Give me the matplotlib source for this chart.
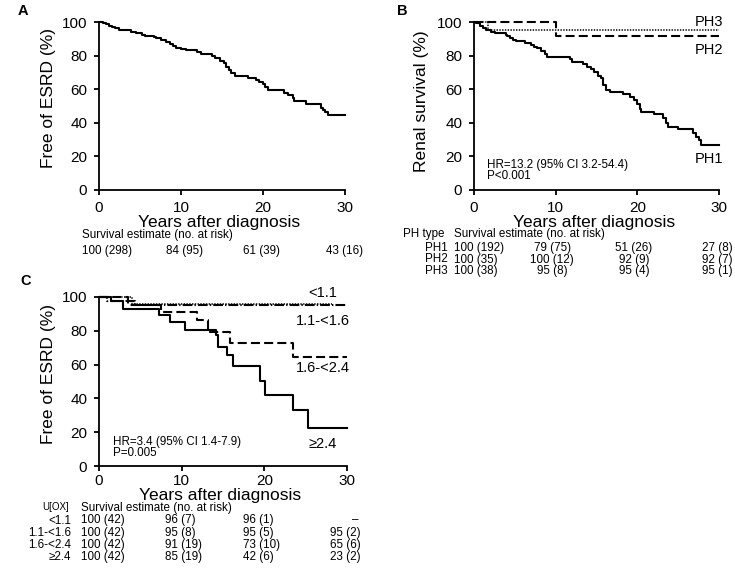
import matplotlib
matplotlib.use("Agg")
import matplotlib.pyplot as plt

plt.rcParams['font.family'] = ['Liberation Sans', 'DejaVu Sans']
plt.rcParams['lines.scale_dashes'] = False

# ---------------- data ----------------
# Panel A: overall
A_t = [0, 0.5, 0.9, 1.2, 1.6, 2.0, 2.4, 3.0, 3.9, 4.5, 5.2, 5.6, 6.7, 7.0, 7.6, 8.2, 8.6, 9.0,
       9.4, 10.0, 10.6, 12.0, 12.4, 13.8, 14.2, 14.8, 15.2, 15.5, 15.8, 16.1, 16.6, 18.2, 19.1,
       19.5, 20.0, 20.3, 20.6, 22.6, 23.1, 23.6, 23.8, 25.2, 27.1, 27.3, 27.6, 27.9, 30.0]
A_s = [100, 99.3, 98.6, 97.9, 97.2, 96.2, 95.4, 95.0, 94.3, 93.3, 92.5, 91.7, 91.0, 90.3, 89.3,
       88.3, 87.2, 86.0, 84.8, 84.0, 83.3, 82.2, 81.0, 80.0, 78.8, 77.0, 75.5, 73.4, 71.5, 69.8,
       68.0, 66.5, 65.3, 64.1, 62.8, 61.3, 59.3, 57.8, 56.5, 54.8, 53.2, 51.2, 49.0, 47.8, 46.6,
       44.5, 44.5]

# Panel B: by PH type
PH1_t = [0, 0.3, 0.7, 1.1, 1.5, 2.1, 2.6, 3.9, 4.1, 4.4, 4.8, 5.2, 6.2, 7.0, 7.4, 7.7, 8.2, 8.7,
         9.0, 11.8, 12.0, 13.3, 13.8, 14.3, 14.7, 15.2, 15.5, 15.8, 16.2, 16.6, 18.2, 19.1, 19.6,
         20.0, 20.3, 20.5, 22.1, 23.1, 23.5, 23.7, 25.0, 26.8, 27.2, 27.6, 27.8, 30.0]
PH1_s = [100, 99.2, 97.8, 96.2, 95.2, 94.2, 93.3, 92.5, 91.8, 90.3, 89.5, 88.7, 87.7, 86.3, 85.3,
         84.3, 82.7, 80.8, 79.4, 77.8, 76.4, 75.2, 73.4, 71.8, 70.0, 68.0, 66.5, 62.5, 59.5, 58.5,
         57.1, 55.2, 53.6, 51.0, 48.0, 46.6, 45.2, 42.7, 39.7, 37.3, 36.5, 33.9, 31.7, 29.8, 27.0,
         27.0]
PH2_t = [0, 10.1, 30.0]
PH2_s = [100, 91.5, 91.5]
PH3_t = [0, 1.7, 30.0]
PH3_s = [100, 95.0, 95.0]

# Panel C: by urinary oxalate
U1_t = [0, 4.0, 28.2]
U1_s = [100, 96.0, 96.0]
U2_t = [0, 1.0, 4.3, 30.0]
U2_s = [100, 97.6, 95.2, 95.2]
U3_t = [0, 3.5, 7.5, 11.8, 13.2, 15.9, 23.5, 30.0]
U3_s = [100, 95.5, 91.2, 86.2, 79.5, 72.5, 64.5, 64.5]
U4_t = [0, 1.5, 2.9, 7.2, 8.6, 10.4, 14.2, 14.4, 15.5, 16.2, 19.5, 20.1, 23.5, 25.3, 30.0]
U4_s = [100, 97.6, 93.1, 89.6, 85.2, 80.5, 77.5, 70.5, 65.5, 59.0, 50.2, 42.0, 33.0, 22.5, 22.5]

x_ticks = [0, 10, 20, 30]
y_ticks = [0, 20, 40, 60, 80, 100]

table_header = "Survival estimate (no. at risk)"
A_row = ["100 (298)", "84 (95)", "61 (39)", "43 (16)"]
B_groups = ["PH1", "PH2", "PH3"]
B_rows = [["100 (192)", "79 (75)", "51 (26)", "27 (8)"],
          ["100 (35)", "100 (12)", "92 (9)", "92 (7)"],
          ["100 (38)", "95 (8)", "95 (4)", "95 (1)"]]
C_groups = ["<1.1", "1.1-<1.6", "1.6-<2.4", "\u22652.4"]
C_rows = [["100 (42)", "96 (7)", "96 (1)", "\u2013"],
          ["100 (42)", "95 (8)", "95 (5)", "95 (2)"],
          ["100 (42)", "91 (19)", "73 (10)", "65 (6)"],
          ["100 (42)", "85 (19)", "42 (6)", "23 (2)"]]

# ---------------- layout ----------------
W, H = 735, 578
fig = plt.figure(figsize=(W / 100, H / 100), dpi=100)


def fx(px):
    return px / W


def fy(py):
    return 1 - py / H


def make_ax(l, r, t, b, ylabel, ylab_x, ylab_y, xpad, xlab_y):
    ax = fig.add_axes([fx(l), fy(b), (r - l) / W, (b - t) / H])
    ax.set_xlim(0, 30)
    ax.set_ylim(0, 100)
    ax.set_xticks(x_ticks)
    ax.set_yticks(y_ticks)
    for s in ['top', 'right']:
        ax.spines[s].set_visible(False)
    for s in ['left', 'bottom']:
        ax.spines[s].set_linewidth(1.3)
    ax.tick_params(direction='out', length=3.5, width=1.3, labelsize=11)
    ax.tick_params(axis='x', pad=xpad)
    ax.tick_params(axis='y', pad=5)
    ax.set_xlabel("Years after diagnosis", fontsize=12.5)
    ax.set_ylabel(ylabel, fontsize=12.5)
    ax.xaxis.set_label_coords(0.49, xlab_y)
    ax.yaxis.set_label_coords(ylab_x, ylab_y)
    return ax


SOLID = dict(color='black', lw=1.5, linestyle='-', clip_on=False)
DASHED = dict(color='black', lw=1.5, linestyle=(0, (6.5, 3)), clip_on=False)
DOTTED = dict(color='black', lw=1.1, linestyle=(0, (1, 1)), clip_on=False)
DASHDOT = dict(color='black', lw=1.5, linestyle=(0, (7, 1.5, 1, 1.5)), clip_on=False)

TFS = 8.4

# Panel A
axA = make_ax(99, 345, 22, 190, "Free of ESRD (%)", -0.174, 0.545, 4.5, -0.147)
axA.step(A_t, A_s, where='post', **SOLID)

# Panel B
axB = make_ax(474, 719, 22, 190, "Renal survival (%)", -0.184, 0.53, 4.5, -0.147)
axB.step(PH1_t, PH1_s, where='post', **SOLID)
axB.step(PH2_t, PH2_s, where='post', **DASHED)
axB.step(PH3_t, PH3_s, where='post', **DOTTED)

# Panel C
axC = make_ax(99, 347, 297, 466, "Free of ESRD (%)", -0.173, 0.547, 2.5, -0.13)
axC.step(U4_t, U4_s, where='post', **SOLID)
axC.step(U3_t, U3_s, where='post', **DASHED)
axC.step(U2_t, U2_s, where='post', **DASHDOT)
axC.step(U1_t, U1_s, where='post', **DOTTED)


def ftext(px, py, s, ha='left', fs=TFS, **kw):
    fig.text(fx(px), fy(py), s, ha=ha, va='baseline', fontsize=fs, **kw)


# panel letters
ftext(18, 15, "A", fs=10.5, fontweight='bold')
ftext(397, 15, "B", fs=10.5, fontweight='bold')
ftext(20, 285, "C", fs=10.5, fontweight='bold')

# curve labels
for lab, py in zip(["PH3", "PH2", "PH1"], [26, 54, 163]):
    ftext(709, py, lab, ha='center', fs=10.5)
for lab, py in zip(["<1.1", "1.1-<1.6", "1.6-<2.4", "\u22652.4"], [297, 325, 372, 448]):
    ftext(323, py, lab, ha='center', fs=10.5)

# statistics
ftext(487, 168, "HR=13.2 (95% CI 3.2-54.4)")
ftext(487, 179.5, "P<0.001")
ftext(113, 445, "HR=3.4 (95% CI 1.4-7.9)")
ftext(113, 456.5, "P=0.005")

# tables
ftext(82, 238, table_header)
for (px, ha), s in zip([(82, 'left'), (166, 'left'), (243, 'left'), (363, 'right')], A_row):
    ftext(px, 254, s, ha=ha)

ftext(403, 237.5, "PH type")
ftext(454, 237.5, table_header)
for g, row, py in zip(B_groups, B_rows, [251, 262.5, 274]):
    ftext(448, py, g, ha='right')
    for (px, ha), s in zip([(454, 'left'), (552, 'center'), (634, 'center'), (733, 'right')], row):
        ftext(px, py, s, ha=ha)

ftext(69, 510, "U[OX]", ha='right', fs=7)
ftext(81, 510.5, table_header)
for g, row, py in zip(C_groups, C_rows, [523.5, 536, 548, 560]):
    ftext(71, py, g, ha='right')
    for (px, ha), s in zip([(81, 'left'), (165, 'left'), (243, 'left'), (361, 'right')], row):
        if s == "\u2013":
            ftext(355, py, s, ha='center')
        else:
            ftext(px, py, s, ha=ha)

fig.savefig("out.png", dpi=100)
